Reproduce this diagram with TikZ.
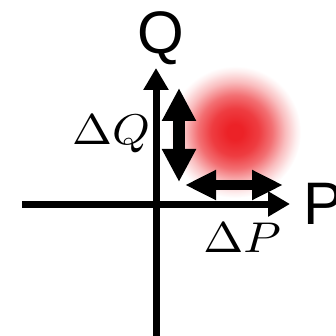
\documentclass[tikz,border=0pt]{standalone}
\usepackage{graphicx}
\usepackage{fontspec}
\newfontfamily\axisfont{Liberation Sans}
\usetikzlibrary{arrows.meta}
\definecolor{blobred}{RGB}{236,34,39}
\pgfdeclareradialshading{blob}{\pgfpoint{0bp}{0bp}}{color(0bp)=(blobred); color(3bp)=(blobred); color(9bp)=(blobred!88!white); color(14bp)=(blobred!65!white); color(19bp)=(blobred!30!white); color(23bp)=(blobred!8!white); color(25bp)=(white); color(50bp)=(white)}
\begin{document}
\begin{tikzpicture}[x=1pt,y=-1pt,
  axis/.style={line width=7pt,-{Triangle[width=24pt,length=22pt]}},
  vdouble/.style={line width=12pt,{Triangle[width=32pt,length=33pt]}-{Triangle[width=32pt,length=33pt]}},
  hdouble/.style={line width=10pt,{Triangle[width=28pt,length=31pt]}-{Triangle[width=28pt,length=31pt]}},
  axlabel/.style={inner sep=0pt,font=\axisfont\fontsize{60}{60}\selectfont},
  dlabel/.style={inner sep=0pt}]
\useasboundingbox (0,0) rectangle (335,336);
\shade[shading=blob] (235,132) circle (66);
\coordinate (xl) at (22,204);
\coordinate (xr) at (290,204);
\coordinate (yb) at (156,340);
\coordinate (yt) at (156,68);
\draw[axis] (xl) -- (xr);
\draw[axis] (yb) -- (yt);
\coordinate (qt) at (179,88);
\coordinate (qb) at (179,182);
\coordinate (pl) at (185,185);
\coordinate (pr) at (283,185);
\draw[vdouble] (qb) -- (qt);
\draw[hdouble] (pl) -- (pr);
\node[axlabel,anchor=base] (Q) at (161,54) {Q};
\node[axlabel,anchor=base west] (P) at (303,224) {P};
\node[dlabel,anchor=base] (dQ) at (111,145) {\scalebox{4.8}[4.3]{$\Delta Q$}};
\node[dlabel,anchor=base] (dP) at (242,252) {\scalebox{4.8}[4.3]{$\Delta P$}};
\end{tikzpicture}
\end{document}
